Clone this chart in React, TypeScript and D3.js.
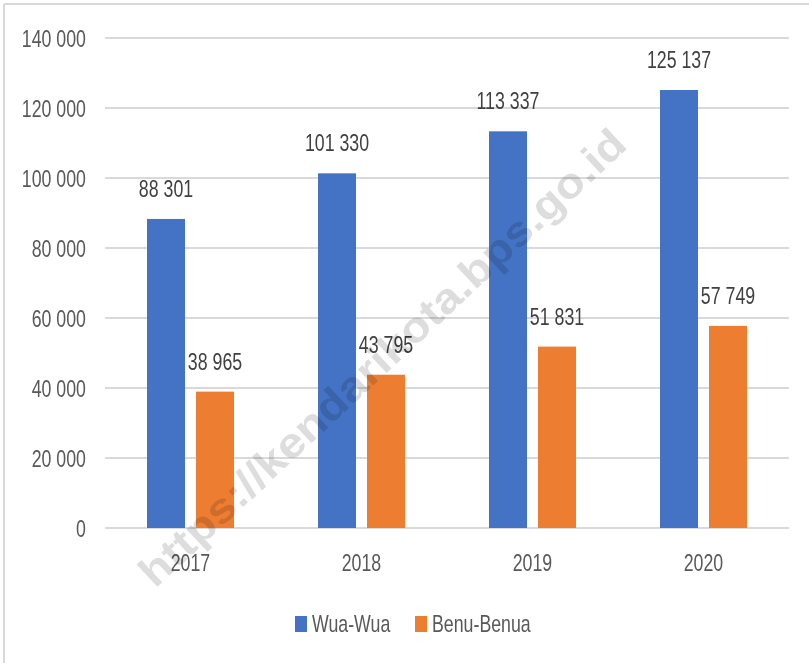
import React, { useEffect, useRef } from 'react';
import * as d3 from 'd3';

const years = ['2017', '2018', '2019', '2020'];
const seriesNames = ['Wua-Wua', 'Benu-Benua'];
const wuaWua = [88301, 101330, 113337, 125137];
const benuBenua = [38965, 43795, 51831, 57749];
const yTicks = [0, 20000, 40000, 60000, 80000, 100000, 120000, 140000];
const colors = ['#4472C4', '#ED7D31'];

const fmt = (v: number) => d3.format(',')(v).replace(/,/g, ' ');

// the original text is condensed, so squeeze it horizontally
const SQUEEZE = 0.74;

export default function App() {
    const ref = useRef<SVGSVGElement>(null);

    useEffect(() => {
        const width = 809;
        const height = 663;
        const svg = d3.select(ref.current);
        svg.selectAll('*').remove();

        const font = '"Liberation Sans", Arial, sans-serif';
        const place = (x: number, y: number) => 'translate(' + x + ',' + y + ') scale(' + SQUEEZE + ',1)';

        // border (only top and left visible in the original crop)
        svg.append('line').attr('x1', 4).attr('x2', width).attr('y1', 4).attr('y2', 4)
            .attr('stroke', '#d9d9d9').attr('stroke-width', 2);
        svg.append('line').attr('x1', 4).attr('x2', 4).attr('y1', 4).attr('y2', height)
            .attr('stroke', '#d9d9d9').attr('stroke-width', 2);

        const x0 = d3.scaleBand().domain(years).range([105, 789]).paddingInner(0).paddingOuter(0);
        const x1 = d3.scaleBand().domain(seriesNames).range([42, 129]).paddingInner(11 / 49).paddingOuter(0);
        const y = d3.scaleLinear().domain([0, 140000]).range([528, 38]);

        // gridlines
        svg.append('g').selectAll('line').data(yTicks).enter().append('line')
            .attr('x1', 105).attr('x2', 789)
            .attr('y1', d => y(d)).attr('y2', d => y(d))
            .attr('stroke', '#d9d9d9').attr('stroke-width', 2);

        // y labels
        svg.append('g').selectAll('text').data(yTicks).enter().append('text')
            .attr('transform', d => place(86, y(d) + 8.5))
            .attr('text-anchor', 'end')
            .style('font-family', font).style('font-size', '24px').attr('fill', '#595959')
            .text(d => fmt(d));

        const data = [wuaWua, benuBenua];
        const groups = svg.append('g').selectAll('g').data(years).enter().append('g')
            .attr('transform', d => 'translate(' + x0(d) + ',0)');

        groups.selectAll('rect')
            .data((d, i) => seriesNames.map((s, j) => ({ s, v: data[j][i], c: colors[j] })))
            .enter().append('rect')
            .attr('x', d => x1(d.s)!)
            .attr('y', d => y(d.v))
            .attr('width', x1.bandwidth())
            .attr('height', d => y(0) - y(d.v))
            .attr('fill', d => d.c);

        // data labels
        groups.selectAll('text')
            .data((d, i) => seriesNames.map((s, j) => ({ s, v: data[j][i] })))
            .enter().append('text')
            .attr('transform', d => place(x1(d.s)! + x1.bandwidth() / 2, y(d.v) - 22))
            .attr('text-anchor', 'middle')
            .style('font-family', font).style('font-size', '24px').attr('fill', '#404040')
            .text(d => fmt(d.v));

        // x labels
        svg.append('g').selectAll('text').data(years).enter().append('text')
            .attr('transform', d => place(x0(d)! + x0.bandwidth() / 2, 571))
            .attr('text-anchor', 'middle')
            .style('font-family', font).style('font-size', '24px').attr('fill', '#595959')
            .text(d => d);

        // legend
        const legendX = [295, 415];
        const legend = svg.append('g').selectAll('g').data(seriesNames).enter().append('g')
            .attr('transform', (d, i) => 'translate(' + legendX[i] + ',616)');
        legend.append('rect').attr('width', 12).attr('height', 16).attr('fill', (d, i) => colors[i]);
        legend.append('text').attr('transform', place(17, 16))
            .style('font-family', font).style('font-size', '24px').attr('fill', '#595959')
            .text(d => d);

        // watermark, on top of everything
        svg.append('text')
            .attr('transform', 'translate(392,368) rotate(-43)')
            .attr('text-anchor', 'middle')
            .attr('textLength', 648)
            .attr('lengthAdjust', 'spacingAndGlyphs')
            .style('font-family', font)
            .style('font-weight', 'bold').style('font-size', '42px')
            .style('mix-blend-mode', 'multiply')
            .attr('fill', '#dddddd')
            .text('https://kendarikota.bps.go.id');
    }, []);

    return (
        <svg ref={ref} width={809} height={663}
            style={{ position: 'absolute', left: 0, top: 0, background: '#fff' }} />
    );
}
